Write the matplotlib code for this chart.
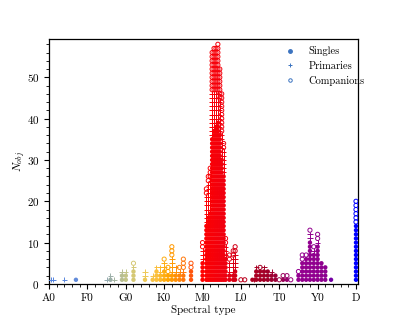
import numpy as np
import matplotlib
matplotlib.use("Agg")
import matplotlib.pyplot as plt
from matplotlib.colors import LinearSegmentedColormap
from matplotlib.lines import Line2D
from matplotlib.ticker import MultipleLocator

# spectral subtype (A0 = 0, F0 = 10, ... Y0 = 70, D = 80) and counts per column
subtype = [0.5, 1, 4, 7, 15, 16, 17, 19, 20, 22, 25, 27, 28, 29, 30, 31, 32, 33,
           34, 35, 37, 40, 41, 41.5, 42, 42.5, 43, 43.5, 44, 44.5, 45, 45.5, 46,
           47, 48, 48.5, 50, 51, 53, 53.5, 54, 55, 56, 57, 58, 59, 60, 61, 62, 63,
           65, 66, 67, 68, 69, 70, 71, 72, 73.5, 80]
n_single = [0, 0, 0, 1, 0, 1, 0, 2, 2, 3, 1, 1, 3, 2, 3, 2, 2, 2,
            2, 2, 3, 5, 14, 16, 17, 35, 37, 38, 39, 36, 30, 26, 6,
            2, 2, 3, 0, 0, 1, 0, 3, 3, 3, 3, 2, 2, 0, 1, 1, 0,
            2, 5, 6, 10, 7, 9, 5, 4, 1, 14]
n_primary = [1, 1, 1, 0, 1, 1, 1, 1, 1, 1, 2, 1, 1, 2, 2, 0, 4, 2,
             1, 1, 0, 3, 7, 8, 8, 11, 9, 8, 7, 8, 6, 6, 3,
             3, 4, 4, 0, 0, 0, 1, 1, 0, 1, 0, 1, 0, 0, 0, 0, 0,
             0, 0, 0, 2, 1, 1, 0, 0, 0, 0]
n_companion = [0, 0, 0, 0, 0, 0, 0, 0, 0, 1, 0, 0, 0, 0, 1, 2, 3, 0,
               1, 3, 2, 2, 2, 2, 3, 10, 11, 11, 12, 8, 10, 2, 2,
               2, 2, 2, 1, 1, 0, 0, 0, 1, 0, 0, 0, 0, 1, 1, 1, 1,
               1, 2, 1, 1, 1, 2, 0, 0, 0, 6]

tick_pos = [0, 10, 20, 30, 40, 50, 60, 70, 80]
tick_labels = ["A0", "F0", "G0", "K0", "M0", "L0", "T0", "Y0", "D"]

# colour along the spectral sequence
anchors = [(0, "#4f81e0"), (10, "#6a90d8"), (15, "#92aab0"), (20, "#c2c488"),
           (24, "#e8cc60"), (28, "#fbbf3a"), (31, "#ffa500"), (36, "#ff7010"),
           (39, "#ff2000"), (40, "#ff0000"), (46, "#f00010"), (49, "#d00018"),
           (52, "#b00020"), (57, "#a00028"), (60, "#9a0040"), (64, "#960090"),
           (72, "#8e008e"), (76, "#5000c0"), (80, "#0000ff")]
cmap = LinearSegmentedColormap.from_list("sptype", [(a / 80, c) for a, c in anchors])

plt.rcParams["font.family"] = "cmr10"
plt.rcParams["mathtext.fontset"] = "cm"
plt.rcParams["axes.formatter.use_mathtext"] = True

fig = plt.figure(figsize=(3.99, 3.19), dpi=100)
ax = fig.add_axes([0.123, 0.110, 0.774, 0.768])

xs = {"s": [], "p": [], "c": []}
ys = {"s": [], "p": [], "c": []}
for x, s, p, c in zip(subtype, n_single, n_primary, n_companion):
    for k in range(s):
        xs["s"].append(x); ys["s"].append(k + 1)
    for k in range(p):
        xs["p"].append(x); ys["p"].append(s + k + 1)
    for k in range(c):
        xs["c"].append(x); ys["c"].append(s + p + k + 1)

col = {k: cmap(np.array(v) / 80) for k, v in xs.items()}
ax.scatter(xs["s"], ys["s"], s=10, marker="o", c=col["s"], linewidths=0, zorder=3)
ax.scatter(xs["p"], ys["p"], s=15, marker="+", c=col["p"], linewidths=0.7, zorder=3)
ax.scatter(xs["c"], ys["c"], s=9, marker="o", facecolors="none",
           edgecolors=col["c"], linewidths=0.7, zorder=3)

ax.set_xlim(0, 80.5)
ax.set_ylim(0, 59.3)
ax.set_xticks(tick_pos)
ax.set_xticklabels(tick_labels)
ax.xaxis.set_minor_locator(MultipleLocator(2))
ax.yaxis.set_major_locator(MultipleLocator(10))
ax.yaxis.set_minor_locator(MultipleLocator(2))
ax.tick_params(which="both", direction="out", labelsize=8)
ax.tick_params(which="major", length=3.5, width=0.8)
ax.tick_params(which="minor", length=2, width=0.6)
for sp in ax.spines.values():
    sp.set_linewidth(0.9)

ax.set_xlabel("Spectral type", fontsize=8, labelpad=1)
ax.set_ylabel(r"$N_{obj}$", fontsize=8, labelpad=-1)

lc = "#3b73c0"
handles = [
    Line2D([], [], ls="none", marker="o", ms=2.5, mfc=lc, mec=lc, label="Singles"),
    Line2D([], [], ls="none", marker="+", ms=3.5, mec=lc, mew=0.7, label="Primaries"),
    Line2D([], [], ls="none", marker="o", ms=2.5, mfc="none", mec=lc, mew=0.7,
           label="Companions"),
]
ax.legend(handles=handles, loc="upper left", bbox_to_anchor=(0.735, 1.0),
          frameon=False, fontsize=7.5, handlelength=1.2, handletextpad=1.2,
          labelspacing=0.5, borderaxespad=0.3)

fig.savefig("out.png", dpi=100)
